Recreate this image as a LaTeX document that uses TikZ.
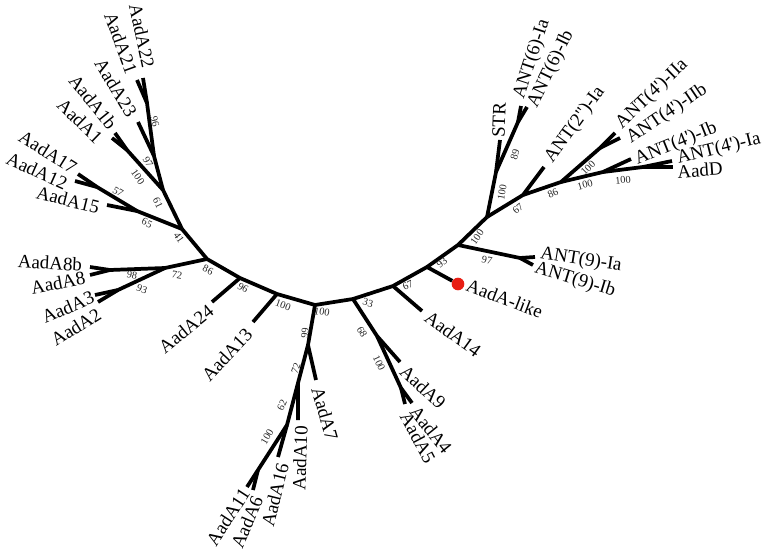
\documentclass[tikz,border=0pt]{standalone}
\usepackage{fontspec}
\newfontfamily\treefont{Liberation Serif}
\definecolor{dotred}{RGB}{232,30,20}
\begin{document}
\begin{tikzpicture}[
    x=0.75pt, y=-0.75pt,
    branch/.style={line width=2.8pt, line join=round},
    leaf/.style={font=\treefont\fontsize{14.2}{15}\selectfont, inner sep=0pt},
    boot/.style={font=\treefont\fontsize{7.8}{8}\selectfont, inner sep=0pt, text=black!85}
]
    \useasboundingbox (0,0) rectangle (767,556);

    % backbone
    \coordinate (j41) at (182,229);
    \coordinate (n86) at (207,259);
    \coordinate (n96) at (240,278);
    \coordinate (n100a) at (277,294);
    \coordinate (nC) at (315,305);
    \coordinate (n33) at (353,299);
    \coordinate (n67) at (393,286);
    \coordinate (n93) at (427,267);
    \coordinate (n100b) at (458,245);
    \coordinate (n100c) at (487,217);

    % left clades
    \coordinate (n65) at (137,211);
    \coordinate (n57) at (97,187);
    \coordinate (n61) at (163,190);
    \coordinate (n100f) at (127,150);
    \coordinate (n97) at (154,156);
    \coordinate (n96l) at (147,103);
    \coordinate (n72l) at (165,268);
    \coordinate (n98) at (110,270);
    \coordinate (n93l) at (118,290);

    % bottom clades
    \coordinate (n99) at (308,345);
    \coordinate (n72b) at (298,383);
    \coordinate (n62) at (287,425);
    \coordinate (n100e) at (258,470);
    \coordinate (n68) at (377,336);
    \coordinate (n100d) at (401,388);

    % right clades
    \coordinate (nANT9) at (520,258);
    \coordinate (n89) at (496,172);
    \coordinate (nANT6) at (518,122);
    \coordinate (n67r) at (523,195);
    \coordinate (n86r) at (561,182);
    \coordinate (nIIa) at (600,148);
    \coordinate (nIb) at (603,172);
    \coordinate (nIa) at (643,167);

    % leaves
    \coordinate (lA22) at (143,78);
    \coordinate (lA21) at (137,80);
    \coordinate (lA23) at (138,122);
    \coordinate (lA1b) at (115,133);
    \coordinate (lA1) at (112,138);
    \coordinate (lA17) at (78,174);
    \coordinate (lA12) at (75,181);
    \coordinate (lA15) at (107,205);
    \coordinate (lA8b) at (90,267);
    \coordinate (lA8) at (90,275);
    \coordinate (lA3) at (95,295);
    \coordinate (lA2) at (98,302);
    \coordinate (lA24) at (212,302);
    \coordinate (lA13) at (253,322);
    \coordinate (lA11) at (247,487);
    \coordinate (lA6) at (253,490);
    \coordinate (lA16) at (278,457);
    \coordinate (lA10) at (298,420);
    \coordinate (lA7) at (316,380);
    \coordinate (lA9) at (400,362);
    \coordinate (lA4) at (412,403);
    \coordinate (lA5) at (405,404);
    \coordinate (lA14) at (422,311);
    \coordinate (lN9a) at (535,257);
    \coordinate (lN9b) at (533,265);
    \coordinate (lSTR) at (500,140);
    \coordinate (lN6a) at (521,106);
    \coordinate (lN6b) at (527,107);
    \coordinate (lN2) at (544,167);
    \coordinate (lIIa) at (615,133);
    \coordinate (lIIb) at (620,138);
    \coordinate (lIb) at (631,159);
    \coordinate (lIa) at (672,161);
    \coordinate (lD) at (673,167);

    \node[circle, fill=dotred, inner sep=0pt, minimum size=9.5pt] (like) at (458,284) {};

    \draw[branch] (j41) -- (n86) -- (n96) -- (n100a) -- (nC) -- (n33) -- (n67) -- (n93) -- (n100b) -- (n100c);

    \draw[branch] (j41) -- (n65) -- (lA15);
    \draw[branch] (n65) -- (n57) -- (lA17);
    \draw[branch] (n57) -- (lA12);
    \draw[branch] (j41) -- (n61) -- (n100f) -- (lA1b);
    \draw[branch] (n100f) -- (lA1);
    \draw[branch] (n61) -- (n97) -- (lA23);
    \draw[branch] (n97) -- (n96l) -- (lA21);
    \draw[branch] (n96l) -- (lA22);
    \draw[branch] (n86) -- (n72l) -- (n98) -- (lA8b);
    \draw[branch] (n98) -- (lA8);
    \draw[branch] (n72l) -- (n93l) -- (lA3);
    \draw[branch] (n93l) -- (lA2);
    \draw[branch] (n96) -- (lA24);
    \draw[branch] (n100a) -- (lA13);

    \draw[branch] (nC) -- (n99) -- (lA7);
    \draw[branch] (n99) -- (n72b) -- (lA10);
    \draw[branch] (n72b) -- (n62) -- (lA16);
    \draw[branch] (n62) -- (n100e) -- (lA11);
    \draw[branch] (n100e) -- (lA6);
    \draw[branch] (n33) -- (n68) -- (lA9);
    \draw[branch] (n68) -- (n100d) -- (lA4);
    \draw[branch] (n100d) -- (lA5);
    \draw[branch] (n67) -- (lA14);
    \draw[branch] (n93) -- (like);

    \draw[branch] (n100b) -- (nANT9) -- (lN9a);
    \draw[branch] (nANT9) -- (lN9b);
    \draw[branch] (n100c) -- (n89) -- (lSTR);
    \draw[branch] (n89) -- (nANT6) -- (lN6a);
    \draw[branch] (nANT6) -- (lN6b);
    \draw[branch] (n100c) -- (n67r) -- (lN2);
    \draw[branch] (n67r) -- (n86r) -- (nIIa) -- (lIIa);
    \draw[branch] (nIIa) -- (lIIb);
    \draw[branch] (n86r) -- (nIb) -- (lIb);
    \draw[branch] (nIb) -- (nIa) -- (lIa);
    \draw[branch] (nIa) -- (lD);

    % leaf labels
    \node[leaf, rotate=-78] (tA22) at (142,36) {AadA22};
    \node[leaf, rotate=-70] (tA21) at (121,43) {AadA21};
    \node[leaf, rotate=-59] (tA23) at (116,88) {AadA23};
    \node[leaf, rotate=-51] (tA1b) at (93,102) {AadA1b};
    \node[leaf, rotate=-44] (tA1) at (80,121) {AadA1};
    \node[leaf, rotate=-32] (tA17) at (48,152) {AadA17};
    \node[leaf, rotate=-24] (tA12) at (37,171) {AadA12};
    \node[leaf, rotate=-14] (tA15) at (68,200) {AadA15};
    \node[leaf, rotate=-3] (tA8b) at (50,263) {AadA8b};
    \node[leaf, rotate=11] (tA8) at (58,283) {AadA8};
    \node[leaf, rotate=23] (tA3) at (68,307) {AadA3};
    \node[leaf, rotate=32] (tA2) at (76,327) {AadA2};
    \node[leaf, rotate=39] (tA24) at (186,329) {AadA24};
    \node[leaf, rotate=47] (tA13) at (227,355) {AadA13};
    \node[leaf, rotate=57] (tA11) at (228,517) {AadA11};
    \node[leaf, rotate=67] (tA6) at (247,522) {AadA6};
    \node[leaf, rotate=76] (tA16) at (275,495) {AadA16};
    \node[leaf, rotate=88] (tA10) at (300,458) {AadA10};
    \node[leaf, rotate=-74] (tA7) at (325,414) {AadA7};
    \node[leaf, rotate=-43] (tA9) at (423,387) {AadA9};
    \node[leaf, rotate=-51] (tA4) at (431,430) {AadA4};
    \node[leaf, rotate=-62] (tA5) at (418,438) {AadA5};
    \node[leaf, rotate=-36] (tA14) at (453,334) {AadA14};
    \node[leaf, rotate=-21, anchor=west] (tlike) at ([xshift=2pt]like.east) {AadA-like};
    \node[leaf, rotate=-9] (tN9a) at (581,260) {ANT(9)-Ia};
    \node[leaf, rotate=-17] (tN9b) at (575,280) {ANT(9)-Ib};
    \node[leaf, rotate=88] (tSTR) at (499,120) {STR};
    \node[leaf, rotate=72] (tN6a) at (532,59) {ANT(6)-Ia};
    \node[leaf, rotate=64] (tN6b) at (551,69) {ANT(6)-Ib};
    \node[leaf, rotate=54] (tN2) at (575,125) {ANT(2'')-Ia};
    \node[leaf, rotate=44] (tIIa) at (652,94) {ANT(4')-IIa};
    \node[leaf, rotate=34] (tIIb) at (667,114) {ANT(4')-IIb};
    \node[leaf, rotate=22] (tIb) at (676,144) {ANT(4')-Ib};
    \node[leaf, rotate=14] (tIa) at (719,149) {ANT(4')-Ia};
    \node[leaf, rotate=4] (tD) at (700,170) {AadD};

    % bootstrap values
    \node[boot, rotate=-75] (b96l) at (155,122) {96};
    \node[boot, rotate=-60] (b97) at (148,162) {97};
    \node[boot, rotate=-55] (b100f) at (138,177) {100};
    \node[boot, rotate=-65] (b61) at (158,203) {61};
    \node[boot, rotate=-30] (b57) at (118,192) {57};
    \node[boot, rotate=-25] (b65) at (147,223) {65};
    \node[boot, rotate=-55] (b41) at (179,238) {41};
    \node[boot, rotate=-10] (b98) at (132,275) {98};
    \node[boot, rotate=-20] (b93l) at (142,289) {93};
    \node[boot, rotate=-10] (b72l) at (177,275) {72};
    \node[boot, rotate=-25] (b86) at (208,270) {86};
    \node[boot, rotate=-30] (b96) at (243,288) {96};
    \node[boot, rotate=-20] (b100a) at (283,305) {100};
    \node[boot, rotate=-10] (bC) at (322,312) {100};
    \node[boot, rotate=85] (b99) at (305,333) {99};
    \node[boot, rotate=70] (b72b) at (296,368) {72};
    \node[boot, rotate=65] (b62) at (282,405) {62};
    \node[boot, rotate=60] (b100e) at (267,437) {100};
    \node[boot, rotate=-15] (b33) at (368,303) {33};
    \node[boot, rotate=-60] (b68) at (362,332) {68};
    \node[boot, rotate=-65] (b100d) at (379,363) {100};
    \node[boot, rotate=25] (b67) at (408,285) {67};
    \node[boot, rotate=40] (b93) at (442,263) {93};
    \node[boot, rotate=55] (b100b) at (477,237) {100};
    \node[boot, rotate=-12] (bANT9) at (487,260) {97};
    \node[boot, rotate=80] (b100c) at (502,192) {100};
    \node[boot, rotate=75] (b89) at (515,155) {89};
    \node[boot, rotate=40] (b67r) at (518,209) {67};
    \node[boot, rotate=25] (b86r) at (553,193) {86};
    \node[boot, rotate=45] (bIIa) at (588,168) {100};
    \node[boot, rotate=15] (bIb) at (585,185) {100};
    \node[boot, rotate=5] (bIa) at (623,180) {100};
\end{tikzpicture}
\end{document}
